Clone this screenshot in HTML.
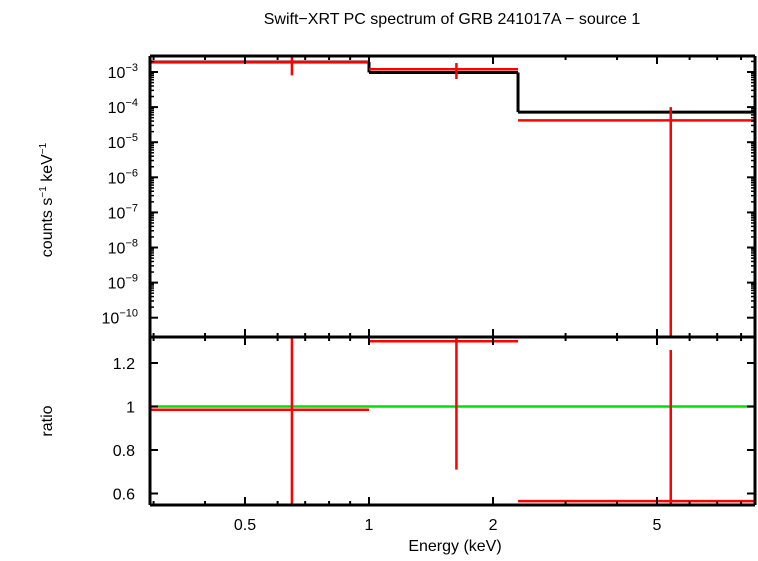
<!DOCTYPE html>
<html><head><meta charset="utf-8"><style>
body{margin:0;background:#fff}
svg{font-family:"Liberation Sans",sans-serif}
</style></head><body>
<svg id="c" width="758" height="556" viewBox="0 0 758 556">
<text x="452" y="24" font-size="16" text-anchor="middle">Swift−XRT PC spectrum of GRB 241017A − source 1</text>
<g id="g"></g>
<text x="455" y="551" font-size="16" text-anchor="middle">Energy (keV)</text>
<text transform="translate(52,200) rotate(-90)" font-size="16" text-anchor="middle">counts s<tspan font-size="10" dy="-6">−1</tspan><tspan dy="6"> keV</tspan><tspan font-size="10" dy="-6">−1</tspan></text>
<text transform="translate(52,421) rotate(-90)" font-size="16" text-anchor="middle">ratio</text>
</svg>
<script>
const binLo=[0.294,1.0,2.3];
const binHi=[1.0,2.3,8.65];
const binCenter=[0.65,1.63,5.4];
const modelVals=[1.93e-3,0.97e-3,7.2e-5];
const dataVals=[1.93e-3,1.2e-3,4.2e-5];
const dataErrLo=[8e-4,6.3e-4,1e-11];
const dataErrHi=[3.2e-3,1.8e-3,1.0e-4];
const ratioVals=[0.985,1.30,0.565];
const ratioLo=[0.5,0.71,0.5];
const ratioHi=[1.4,1.4,1.26];
const xTicks=[0.5,1,2,5];
const xMinor=[0.3,0.4,0.6,0.7,0.8,0.9,3,4,6,7,8];
const yTopTicks=[-3,-4,-5,-6,-7,-8,-9,-10];
const ratioTicks=[0.6,0.8,1,1.2];
const L=150,R=755,T=56,M=337,B=505;
const X=e=>369+412*Math.log10(e);
const YT=v=>Math.min(M,Math.max(T,72-35.1*(Math.log10(v)+3)));
const YB=v=>Math.min(B,Math.max(M,406.5-217.5*(v-1)));
const g=document.getElementById('g');const NS='http://www.w3.org/2000/svg';
function ln(x1,y1,x2,y2,c,w,n){const l=document.createElementNS(NS,'line');
l.setAttribute('x1',x1);l.setAttribute('y1',y1);l.setAttribute('x2',x2);l.setAttribute('y2',y2);
l.setAttribute('stroke',c);l.setAttribute('stroke-width',w);


g.appendChild(l);}
function tx(x,y,s,a,n,sup){const t=document.createElementNS(NS,'text');
t.setAttribute('x',x);t.setAttribute('y',y);t.setAttribute('font-size','16');t.setAttribute('text-anchor',a);
if(sup){t.innerHTML='10<tspan font-size="11" dy="-7">'+sup+'</tspan>';}else t.textContent=s;


g.appendChild(t);}
// model step
for(let i=0;i<binLo.length;i++){
ln(X(binLo[i]),YT(modelVals[i]),X(binHi[i]),YT(modelVals[i]),'#000',3,'model-step');
if(i>0)ln(X(binLo[i]),YT(modelVals[i-1]),X(binLo[i]),YT(modelVals[i]),'#000',3,'model-step-riser');
}
ln(L,406.5,R,406.5,'#00e000',2.5,'ratio-unity-line');
for(let i=0;i<binLo.length;i++){
ln(X(binLo[i]),YT(dataVals[i]),X(binHi[i]),YT(dataVals[i]),'#f00',2.5,'data-bin');
ln(X(binCenter[i]),YT(dataErrLo[i]),X(binCenter[i]),YT(dataErrHi[i]),'#f00',2.5,'data-error');
ln(X(binLo[i]),YB(ratioVals[i]),X(binHi[i]),YB(ratioVals[i]),'#f00',2.5,'ratio-bin');
ln(X(binCenter[i]),YB(ratioLo[i]),X(binCenter[i]),YB(ratioHi[i]),'#f00',2.5,'ratio-error');
}
// frames
[[L,T,R,T],[L,M,R,M],[L,B,R,B],[L,T,L,B],[R,T,R,B]].forEach(a=>ln(a[0],a[1],a[2],a[3],'#000',3,'axis-frame'));
xTicks.forEach(e=>{ln(X(e),B,X(e),B-8,'#000',2,'x-tick');ln(X(e),M,X(e),M-8,'#000',2,'x-tick');ln(X(e),M,X(e),M+8,'#000',2,'x-tick');ln(X(e),T,X(e),T+8,'#000',2,'x-tick');
tx(X(e),530,String(e),'middle','x-tick-label');});
xMinor.forEach(e=>{[B,M,T].forEach(y=>ln(X(e),y,X(e),y+(y===T?4:-4),'#000',2,'x-minor-tick'));ln(X(e),M,X(e),M+4,'#000',2,'x-minor-tick');});
yTopTicks.forEach(p=>{const y=YT(Math.pow(10,p));ln(L,y,L+8,y,'#000',2,'y-tick');ln(R,y,R-8,y,'#000',2,'y-tick');
for(let k=2;k<10;k++){const yy=YT(k*Math.pow(10,p));if(yy>T&&yy<M){ln(L,yy,L+4,yy,'#000',1.5,'y-minor-tick');ln(R,yy,R-4,yy,'#000',1.5,'y-minor-tick');}}
tx(138,y+6,'','end','y-tick-label',String(p).replace('-','−'));});
ratioTicks.forEach(v=>{const y=YB(v);ln(L,y,L+8,y,'#000',2,'ratio-tick');ln(R,y,R-8,y,'#000',2,'ratio-tick');
tx(135,y+6,String(v),'end','ratio-tick-label');});
</script>
</body></html>
